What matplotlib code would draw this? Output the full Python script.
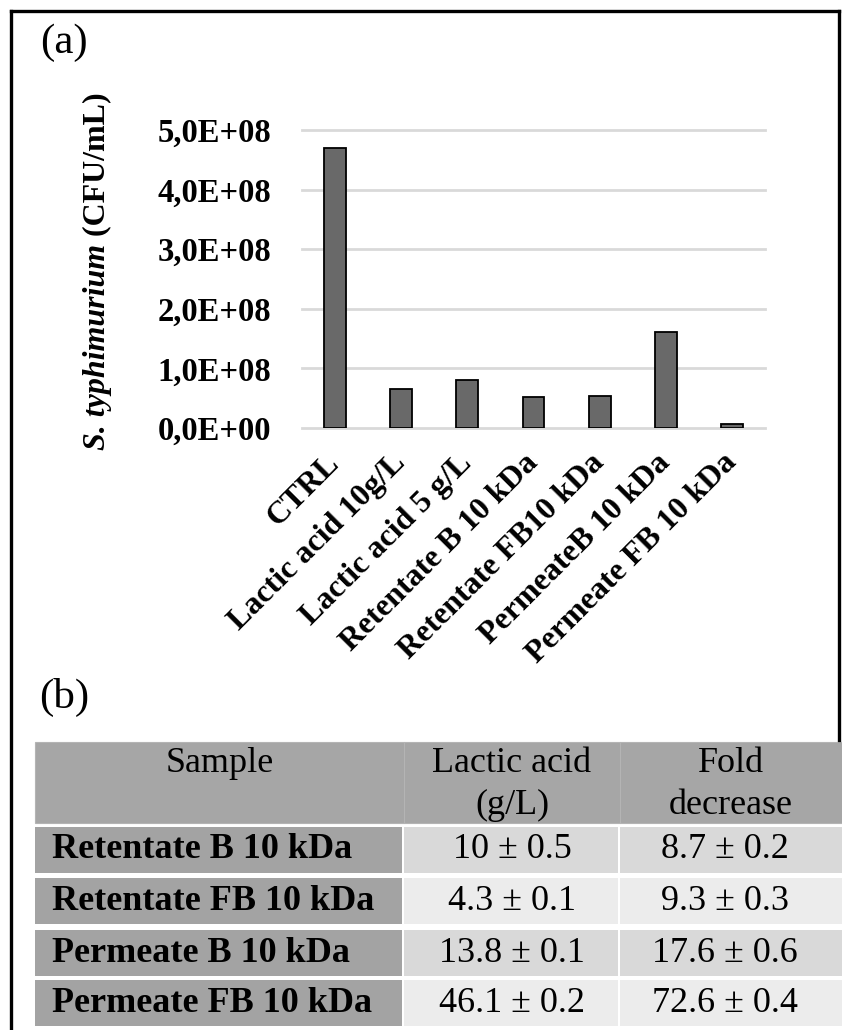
import numpy as np
import matplotlib.pyplot as plt
from matplotlib.patches import Rectangle

plt.rcParams['font.family'] = ['Liberation Serif', 'DejaVu Serif']

# datos del grafico (a)
categorias = ["CTRL", "Lactic acid 10g/L", "Lactic acid 5 g/L", "Retentate B 10 kDa",
              "Retentate FB10 kDa", "PermeateB 10 kDa", "Permeate FB 10 kDa"]
ufc_ml = [4.70e8, 0.65e8, 0.80e8, 0.52e8, 0.53e8, 1.61e8, 0.07e8]
y_ticks = [0, 1e8, 2e8, 3e8, 4e8, 5e8]
y_tick_labels = ["0,0E+00", "1,0E+08", "2,0E+08", "3,0E+08", "4,0E+08", "5,0E+08"]

# datos de la tabla (b)
encabezados = ["Sample", "Lactic acid\n(g/L)", "Fold\ndecrease"]
muestras = ["Retentate B 10 kDa", "Retentate FB 10 kDa", "Permeate B 10 kDa", "Permeate FB 10 kDa"]
acido_lactico = ["10 \u00b1 0.5", "4.3 \u00b1 0.1", "13.8 \u00b1 0.1", "46.1 \u00b1 0.2"]
fold_decrease = ["8.7 \u00b1 0.2", "9.3 \u00b1 0.3", "17.6 \u00b1 0.6", "72.6 \u00b1 0.4"]

W, H = 842, 1030
fig = plt.figure(figsize=(W / 100, H / 100), dpi=100)

# capa de fondo en pixeles (marco, etiquetas, tabla)
bg = fig.add_axes([0, 0, 1, 1], zorder=0)
bg.set_xlim(0, W)
bg.set_ylim(H, 0)
bg.axis('off')

# marco exterior
bg.plot([11, 11], [H, 11], color='black', lw=2.4, solid_capstyle='projecting')
bg.plot([11, 839], [11, 11], color='black', lw=2.4, solid_capstyle='projecting')
bg.plot([839, 839], [11, 740], color='black', lw=2.4, solid_capstyle='projecting')

bg.text(64, 43, "(a)", fontsize=31, ha='center', va='center')
bg.text(64, 697, "(b)", fontsize=31, ha='center', va='center')

# etiqueta eje y: parte en cursiva + parte normal
t1 = bg.text(97, 450, "S. typhimurium", rotation=90, ha='center', va='bottom',
             fontsize=23, fontweight='bold', style='italic')
bg.annotate(" (CFU/mL)", xy=(0.5, 1), xycoords=t1, ha='center', va='bottom',
            rotation=90, fontsize=23, fontweight='bold')

# --- grafico de barras ---
ax = fig.add_axes([302 / W, 1 - 428 / H, (765 - 302) / W, (428 - 130) / H], zorder=1)
x = np.arange(len(categorias))
ax.bar(x, ufc_ml, width=0.33, color='#696969', edgecolor='black', linewidth=1.3, zorder=3)
ax.set_xlim(-0.5, len(categorias) - 0.5)
ax.set_ylim(0, 5e8)
ax.set_yticks(y_ticks)
ax.set_yticklabels(y_tick_labels, fontsize=23.5, fontweight='bold')
ax.set_xticks(x)
ax.set_xticklabels(categorias, rotation=45, ha='right', va='center', rotation_mode='anchor',
                   fontsize=23, fontweight='bold')
ax.tick_params(axis='y', length=0, pad=22)
ax.tick_params(axis='x', length=0, pad=22)
ax.yaxis.grid(True, color='#d9d9d9', linewidth=2)
for linea in ax.get_ygridlines():
    linea.set_clip_on(False)
ax.set_axisbelow(True)
for s in ax.spines.values():
    s.set_visible(False)

# --- tabla ---
col_x = [35, 404, 620, 842]          # bordes de columnas
cab_top, cab_bot = 742, 823
fila_top = [827, 878, 930, 980]
fila_alto = 46
gris_cab = '#a6a6a6'
gris_col1 = '#a3a3a3'
gris_datos = ['#d9d9d9', '#ececec', '#d9d9d9', '#ececec']

for j in range(3):
    bg.add_patch(Rectangle((col_x[j], cab_top), col_x[j + 1] - col_x[j], cab_bot - cab_top,
                           facecolor=gris_cab, edgecolor='#b4b4b4', lw=0.8))
    cx = (col_x[j] + col_x[j + 1]) / 2
    for k, linea in enumerate(encabezados[j].split("\n")):
        bg.text(cx, 763 + 42 * k, linea, fontsize=26, ha='center', va='center')

for i, muestra in enumerate(muestras):
    y0 = fila_top[i]
    bg.add_patch(Rectangle((col_x[0], y0), col_x[1] - 2 - col_x[0], fila_alto,
                           facecolor=gris_col1, edgecolor='none'))
    bg.add_patch(Rectangle((col_x[1], y0), col_x[2] - 2 - col_x[1], fila_alto,
                           facecolor=gris_datos[i], edgecolor='none'))
    bg.add_patch(Rectangle((col_x[2], y0), col_x[3] - col_x[2], fila_alto,
                           facecolor=gris_datos[i], edgecolor='none'))
    yc = y0 + fila_alto / 2
    bg.text(52, yc, muestra, fontsize=26, fontweight='bold', ha='left', va='center')
    bg.text((col_x[1] + col_x[2]) / 2, yc, acido_lactico[i], fontsize=26, ha='center', va='center')
    bg.text((col_x[2] + col_x[3]) / 2 - 6, yc, fold_decrease[i], fontsize=26, ha='center', va='center')

fig.savefig("out.png", dpi=100)
